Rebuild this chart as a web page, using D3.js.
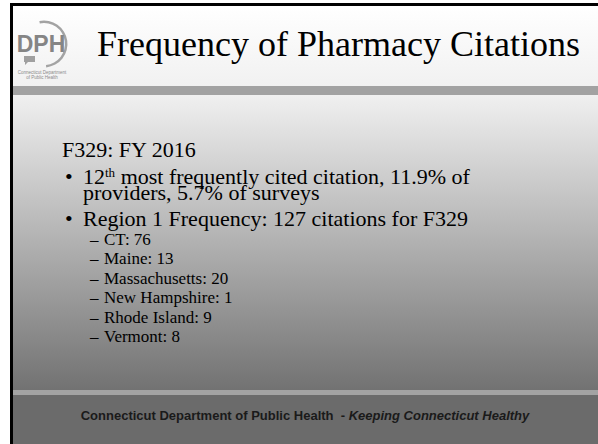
<!DOCTYPE html>
<html>
<head>
<meta charset="utf-8">
<script src="https://cdn.jsdelivr.net/npm/d3@7"></script>
<style>
  body { margin: 0; background: #fff; }
  svg { display: block; }
</style>
</head>
<body>
<div id="chart"></div>
<script>
// Data slide
const title = "Frequency of Pharmacy Citations";
const heading = "F329: FY 2016";
const rank = 12;
const providerPct = 11.9;
const surveyPct = 5.7;
const regionTotal = 127;
const states = ["CT", "Maine", "Massachusetts", "New Hampshire", "Rhode Island", "Vermont"];
const citations = [76, 13, 20, 1, 9, 8];
const footerMain = "Connecticut Department of Public Health";
const footerTag = "Keeping Connecticut Healthy";

const width = 598,
  height = 444;

const svg = d3
  .select("#chart")
  .append("svg")
  .attr("width", width)
  .attr("height", height);

const defs = svg.append("defs");

// gradients
function grad(id, c0, c1) {
  const g = defs
    .append("linearGradient")
    .attr("id", id)
    .attr("x1", 0)
    .attr("y1", 0)
    .attr("x2", 0)
    .attr("y2", 1);
  g.append("stop").attr("offset", "0%").attr("stop-color", c0);
  g.append("stop").attr("offset", "100%").attr("stop-color", c1);
}
grad("gHead", "#ffffff", "#f1f1f1");
grad("gBody", "#f0f0f0", "#727272");

const slideX = 10,
  slideY = 3;
const bandY = 86,
  bandH = 9;
const footY = 390,
  footLineH = 5;

// slide panels
svg.append("rect").attr("x", slideX).attr("y", slideY).attr("width", width).attr("height", height).attr("fill", "#000");
svg.append("rect").attr("x", slideX + 3).attr("y", slideY + 3).attr("width", width).attr("height", bandY - slideY - 3).attr("fill", "url(#gHead)");
svg.append("rect").attr("x", slideX + 3).attr("y", bandY).attr("width", width).attr("height", bandH).attr("fill", "#a2a2a2");
svg.append("rect").attr("x", slideX + 3).attr("y", bandY + bandH).attr("width", width).attr("height", footY - bandY - bandH).attr("fill", "url(#gBody)");
svg.append("rect").attr("x", slideX + 3).attr("y", footY).attr("width", width).attr("height", footLineH).attr("fill", "#a3a3a3");
svg.append("rect").attr("x", slideX + 3).attr("y", footY + footLineH).attr("width", width).attr("height", height).attr("fill", "#6b6b6b");

// logo
const logo = svg.append("g").attr("transform", "translate(44,44)");
const ring = d3.arc().innerRadius(21).outerRadius(23.5);
logo
  .append("path")
  .attr("d", ring({ startAngle: -0.2, endAngle: Math.PI * 0.97 }))
  .attr("fill", "#a3a3a3");
logo
  .append("text")
  .attr("x", -3)
  .attr("y", 8)
  .attr("text-anchor", "middle")
  .style("font-family", "Liberation Sans Narrow, Liberation Sans, Arial, sans-serif")
  .style("font-weight", "bold")
  .style("font-size", "23px")
  .attr("fill", "#858585")
  .text("DPH");
logo
  .append("path")
  .attr("d", "M-20,12 h11 v6 h-7 l-3,3 v-3 h-1 z")
  .attr("fill", "#a0a0a0");
logo
  .selectAll("text.small")
  .data(["Connecticut Department", "of Public Health"])
  .enter()
  .append("text")
  .attr("class", "small")
  .attr("x", -2)
  .attr("y", (d, i) => 30 + i * 5)
  .attr("text-anchor", "middle")
  .style("font-family", "Liberation Sans, Arial, sans-serif")
  .style("font-size", "4.5px")
  .attr("fill", "#8a8a8a")
  .text((d) => d);

// title
svg
  .append("text")
  .attr("x", 97)
  .attr("y", 56)
  .style("font-family", "Liberation Serif, Times New Roman, serif")
  .style("font-size", "36px")
  .attr("fill", "#000")
  .text(title);

const serif = "Liberation Serif, Times New Roman, serif";

// heading
svg
  .append("text")
  .attr("x", 62)
  .attr("y", 157)
  .style("font-family", serif)
  .style("font-size", "22px")
  .text(heading);

// bullets level 1
const bulletX = 65,
  textX = 83;
const b1 = svg.append("g").style("font-family", serif).style("font-size", "22px");
b1.append("text").attr("x", bulletX).attr("y", 184).text("•");
const t1 = b1.append("text").attr("x", textX).attr("y", 184);
t1.append("tspan").text(rank);
t1.append("tspan").attr("baseline-shift", "super").style("font-size", "13px").text("th");
t1.append("tspan").text(` most frequently cited citation, ${providerPct}% of`);
b1.append("text").attr("x", textX).attr("y", 200).text(`providers, ${surveyPct}% of surveys`);
b1.append("text").attr("x", bulletX).attr("y", 226).text("•");
b1.append("text").attr("x", textX).attr("y", 226).text(`Region 1 Frequency: ${regionTotal} citations for F329`);

// sub items via point scale
const y = d3.scalePoint().domain(states).range([245, 342]);
const sub = svg.append("g").style("font-family", serif).style("font-size", "17px");
sub
  .selectAll("text.dash")
  .data(states)
  .enter()
  .append("text")
  .attr("class", "dash")
  .attr("x", 90)
  .attr("y", (d) => y(d))
  .text("–");
sub
  .selectAll("text.item")
  .data(states)
  .enter()
  .append("text")
  .attr("class", "item")
  .attr("x", 104)
  .attr("y", (d) => y(d))
  .text((d, i) => `${d}: ${citations[i]}`);

// footer
const ft = svg
  .append("text")
  .attr("x", 305)
  .attr("y", 420)
  .attr("text-anchor", "middle")
  .style("font-family", "Liberation Sans, Arial, sans-serif")
  .style("font-size", "13px")
  .style("font-weight", "bold")
  .attr("fill", "#1a1a1a");
ft.append("tspan").text(footerMain + "\u00a0 - ");
ft.append("tspan").style("font-style", "italic").text(footerTag);
</script>
</body>
</html>
